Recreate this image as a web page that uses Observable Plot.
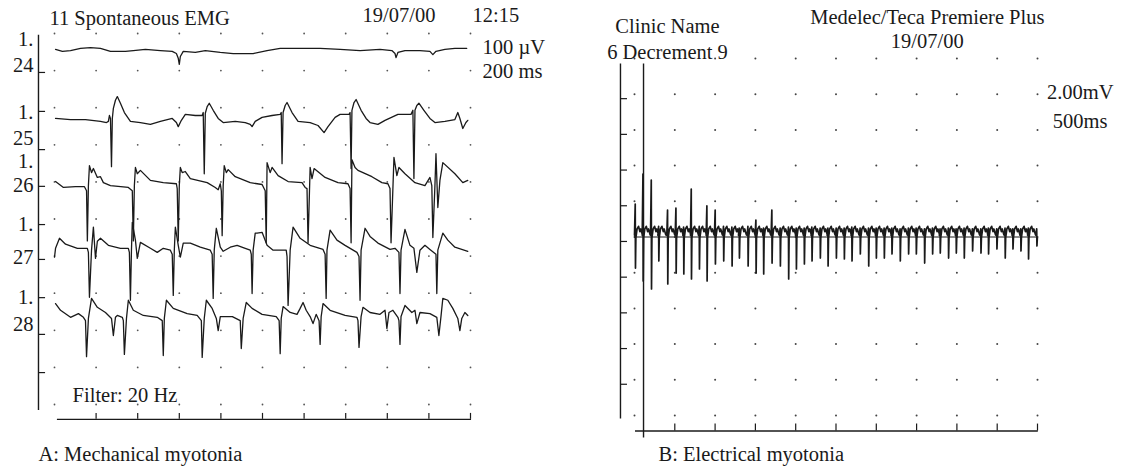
<!DOCTYPE html>
<html><head><meta charset="utf-8">
<script src="https://cdn.jsdelivr.net/npm/d3@7"></script>
<script src="https://cdn.jsdelivr.net/npm/@observablehq/plot@0.6"></script>
<style>
html,body{margin:0;padding:0;background:#fff;}
#wrap{position:relative;width:1135px;height:468px;overflow:hidden;background:#fff;}
#left{position:absolute;left:0;top:0;}
#right{position:absolute;left:560px;top:0;}
svg{overflow:visible;}
</style></head><body><div id="wrap"><div id="left"></div><div id="right"></div></div>
<script>
// ---------- Panel A: spontaneous EMG, 5 channels (time ms, amplitude µV relative to channel baseline)
const channelNames = ["24", "25", "26", "27", "28"];
const channelOffsets = [-43, -229, -410, -579, -760]; // µV position of each channel baseline
const trace24 = [[5,0],[38,-5],[77,-3],[125,3],[173,5],[221,3],[269,-5],[341,-5],[379,-3],[437,0],[509,-3],[566,-5],[586,-11],[595,-24],[600,-40],[605,-19],[619,-5],[677,-8],[725,-3],[797,-8],[859,-11],[955,-11],[1022,-3],[1085,3],[1181,3],[1277,3],[1373,0],[1469,-3],[1565,0],[1622,-3],[1637,-11],[1642,-22],[1651,-8],[1685,-3],[1757,-3],[1805,-5],[1819,-14],[1834,-5],[1877,0],[1925,3],[1982,3]];
const trace25 = [[5,0],[77,-3],[149,-3],[221,-8],[250,-11],[259,-8],[264,8],[269,0],[274,-130],[278,0],[283,27],[293,49],[302,59],[317,41],[336,16],[365,-8],[413,-11],[461,-16],[509,-8],[566,0],[586,-11],[595,-22],[610,-5],[629,11],[677,8],[710,8],[715,16],[720,-149],[725,14],[734,32],[744,41],[763,22],[787,0],[811,-11],[869,-8],[917,-11],[941,-16],[950,-22],[965,-8],[998,3],[1046,8],[1085,11],[1090,16],[1094,-122],[1099,16],[1109,35],[1118,43],[1142,16],[1171,-8],[1229,-11],[1267,-19],[1296,-38],[1315,-22],[1349,3],[1373,11],[1416,11],[1421,16],[1426,-135],[1430,22],[1440,43],[1450,51],[1474,22],[1498,0],[1517,-11],[1555,-16],[1589,-5],[1651,11],[1714,11],[1723,22],[1728,-162],[1733,22],[1742,35],[1752,41],[1776,22],[1805,0],[1829,-11],[1877,-8],[1925,-3],[1939,16],[1949,0],[1963,-27],[1978,-11],[1987,-5]];
const trace26 = [[5,11],[43,-5],[101,-3],[144,-3],[154,-14],[158,-149],[163,0],[168,54],[178,35],[187,46],[206,22],[221,24],[235,8],[269,0],[355,-5],[374,-14],[379,-149],[384,0],[389,49],[398,32],[413,41],[461,14],[523,8],[586,5],[590,-8],[595,-149],[600,0],[605,49],[614,35],[629,38],[653,19],[734,8],[773,-5],[787,-11],[797,5],[802,-14],[806,-135],[811,0],[816,54],[826,35],[835,43],[869,24],[941,8],[998,3],[1013,-14],[1018,-154],[1022,62],[1037,35],[1046,49],[1075,27],[1123,11],[1190,8],[1205,-5],[1214,-8],[1219,-154],[1229,49],[1238,19],[1248,46],[1301,22],[1363,8],[1411,5],[1421,-8],[1426,-154],[1430,70],[1445,49],[1459,41],[1526,24],[1574,8],[1603,5],[1613,-8],[1618,-154],[1632,76],[1646,27],[1656,49],[1685,32],[1733,8],[1781,0],[1805,22],[1814,0],[1819,-140],[1829,0],[1834,86],[1843,-59],[1853,14],[1867,62],[1925,32],[1963,8],[1987,14]];
const trace27 = [[0,-24],[5,0],[24,27],[53,11],[110,0],[158,0],[163,-11],[168,-132],[178,-5],[187,57],[197,-27],[206,19],[221,27],[259,8],[317,0],[355,0],[360,-11],[365,-140],[370,-5],[374,70],[389,22],[398,-27],[413,16],[461,0],[494,-11],[523,0],[557,-5],[566,-16],[571,-127],[576,-5],[581,57],[595,8],[605,-24],[619,14],[653,14],[701,3],[749,-5],[758,-16],[763,-135],[768,-5],[778,54],[797,3],[811,-8],[845,3],[878,8],[917,0],[941,-5],[946,-16],[950,-122],[955,-5],[965,41],[974,41],[998,43],[1022,8],[1051,-5],[1114,-5],[1118,-22],[1123,-154],[1133,-5],[1147,57],[1181,27],[1229,8],[1291,-3],[1301,-16],[1306,-135],[1310,-5],[1325,49],[1358,22],[1397,8],[1454,-11],[1464,-22],[1469,-140],[1474,-5],[1493,54],[1517,32],[1555,14],[1613,-3],[1637,0],[1656,-11],[1661,-122],[1666,-5],[1685,51],[1709,8],[1728,0],[1742,-65],[1757,-5],[1781,8],[1805,-3],[1834,-16],[1838,-122],[1843,-5],[1867,41],[1891,22],[1925,3],[1987,-8]];
const trace28 = [[5,32],[29,14],[77,-5],[115,5],[139,-5],[149,-14],[154,-111],[163,-8],[178,46],[206,22],[245,8],[274,-8],[283,-54],[293,-5],[302,0],[326,-5],[331,-14],[336,-105],[346,-8],[355,41],[379,14],[427,0],[494,-5],[518,-14],[523,-108],[528,-8],[538,41],[571,19],[638,5],[686,0],[706,-14],[710,-113],[720,-8],[730,41],[758,19],[778,-8],[787,-41],[797,-3],[855,-3],[893,-14],[898,-89],[907,-8],[922,35],[950,19],[998,3],[1066,-3],[1080,-14],[1085,-103],[1090,-8],[1099,24],[1133,8],[1166,3],[1181,19],[1195,35],[1210,14],[1229,-3],[1243,-22],[1258,3],[1272,-14],[1277,-78],[1282,-3],[1291,32],[1325,14],[1397,0],[1454,-5],[1459,-14],[1464,-86],[1474,-3],[1483,22],[1517,8],[1565,3],[1589,14],[1598,-35],[1608,8],[1627,14],[1651,-5],[1656,-14],[1661,-78],[1666,-3],[1685,27],[1718,8],[1733,14],[1742,-22],[1757,8],[1805,5],[1838,-5],[1848,-54],[1858,-3],[1867,46],[1891,41],[1915,19],[1939,-8],[1949,-41],[1958,-8],[1973,8],[1987,0]];
const tracesA = [trace24, trace25, trace26, trace27, trace28];

const gridTimesA = [0, 200, 400, 600, 800, 1000, 1200, 1400, 1600, 1800, 2000];
const gridLevelsA = [0, -100, -200, -300, -400, -500, -600, -700, -800, -900, -1000];
const axisTicksA = [-105, -210, -313, -412, -515, -609, -712, -811, -914];
const timeTicksA = [200, 400, 600, 800, 1000, 1200, 1400, 1600, 1800, 2000];
const chanLabelTexts = ["1.", "24", "1.", "25", "1.", "26", "1.", "27", "1.", "28"];
const chanLabelLevels = [-16, -86, -213, -283, -345, -410, -515, -604, -712, -784];

// ---------- Panel B: repetitive discharge (time ms, amplitude mV)
const spikeT = [12,108,211,302,413,517,612,707,806,901,1004,1107,1211,1302,1410,1509,1603,1707,1810,1913,2009,2108,2203,2306,2402,2505,2604,2699,2802,2906,3001,3100,3195,3298,3401,3497,3600,3699,3794,3897,3993,4092,4195,4299,4393,4497,4600,4696,4795,4889,4993];
const spikeDown = [-1.74,-2.46,-2.91,-1.34,-2.63,-2.02,-2.07,-2.35,-1.79,-2.46,-1.51,-1.34,-1.62,-1.18,-1.62,-2.02,-2.07,-1.46,-1.62,-2.35,-1.79,-1.51,-1.34,-1.18,-1.62,-1.18,-1.23,-1.34,-0.95,-1.62,-1.18,-1.18,-0.95,-1.34,-0.95,-0.95,-1.46,-0.95,-0.90,-1.18,-0.90,-1.18,-0.78,-0.90,-0.95,-0.67,-1.18,-0.67,-0.78,-1.23,-0.50];
const spikeUp = [1.85,3.53,3.19,0.6,1.51,1.62,0.55,2.69,0.6,1.74,1.51,0.6,0.55,0.5,0.6,0.95,0.5,1.51,0.5,0.55,0.5,0.5,0.55,0.5,0.5,0.5,0.5,0.55,0.5,0.5,0.5,0.5,0.5,0.45,0.5,0.5,0.45,0.5,0.45,0.5,0.45,0.5,0.45,0.45,0.5,0.45,0.5,0.45,0.45,0.5,0.45];
const dischargeShape = [[-12, 0.1], [-3, "up"], [0, "down"], [5, -0.05], [20, 0.45], [38, 0.6], [55, 0.3], [66, 0.45], [86, 0.12]];
const gridTimesB = [0, 500, 1000, 1500, 2000, 2500, 3000, 3500, 4000, 4500, 5000];
const gridLevelsB = [10, 8, 6, 4, 2, 0, -2, -4, -6, -8, -10];
const axisTicksB = [7.75, 5.75, 3.75, 1.75, -0.25, -2.25, -4.25, -6.25, -8.25];
const timeTicksB = [500, 1000, 1500, 2000, 2500, 3000, 3500, 4000, 4500, 5000];
const stimulusT = 112;

// ---------- build tables
const rowsA = [];
tracesA.forEach((tr, k) => tr.forEach(([t, v]) => rowsA.push({ch: channelNames[k], t, y: channelOffsets[k] + v})));
const gridA = gridTimesA.flatMap(t => gridLevelsA.map(v => ({t, v})));
const chanLabels = chanLabelTexts.map((text, i) => ({text, v: chanLabelLevels[i]}));

const rowsB = [];
spikeT.forEach((t, i) => dischargeShape.forEach(([dt, val]) => {
  const v = val === "up" ? spikeUp[i] : val === "down" ? spikeDown[i] : val;
  if (t + dt <= 5000) rowsB.push({t: t + dt, v});
}));
const gridB = gridTimesB.flatMap(t => gridLevelsB.map(v => ({t, v})));

const font = {fontFamily: "'Liberation Serif', 'Times New Roman', serif", fontSize: "20.5px", color: "#1a1a1a", background: "transparent"};
const ink = "#1a1a1a";

const plotA = Plot.plot({
  width: 560, height: 468, margin: 0,
  x: {domain: [0, 2000], range: [54, 470], axis: null},
  y: {domain: [0, -1000], range: [33, 404], axis: null},
  style: font,
  marks: [
    Plot.dot(gridA, {x: "t", y: "v", r: 0.9, fill: "#555", stroke: null}),
    Plot.ruleX([-77], {y1: -5, y2: -1016, stroke: ink, strokeWidth: 1.4}),
    Plot.ruleY(axisTicksA, {x1: -77, x2: -43, stroke: ink, strokeWidth: 1.2}),
    Plot.ruleY([-1040], {x1: 14, x2: 2005, stroke: ink, strokeWidth: 1.4}),
    Plot.ruleX(timeTicksA, {y1: -1040, y2: -1024, stroke: ink, strokeWidth: 1.2}),
    Plot.line(rowsA, {x: "t", y: "y", z: "ch", stroke: ink, strokeWidth: 1.3, curve: "linear"}),
    Plot.text(chanLabels, {x: -101, y: "v", text: "text", textAnchor: "end", lineAnchor: "middle", fill: ink}),
    Plot.text(["11 Spontaneous EMG"], {x: -24, y: 22, text: d => d, textAnchor: "start", lineAnchor: "bottom", fill: ink}),
    Plot.text(["19/07/00"], {x: 1481, y: 30, text: d => d, textAnchor: "start", lineAnchor: "bottom", fill: ink}),
    Plot.text(["12:15"], {x: 2010, y: 30, text: d => d, textAnchor: "start", lineAnchor: "bottom", fill: ink}),
    Plot.text(["100 µV"], {x: 2058, y: -54, text: d => d, textAnchor: "start", lineAnchor: "bottom", fill: ink}),
    Plot.text(["200 ms"], {x: 2058, y: -119, text: d => d, textAnchor: "start", lineAnchor: "bottom", fill: ink}),
    Plot.text(["Filter: 20 Hz"], {x: 87, y: -994, text: d => d, textAnchor: "start", lineAnchor: "bottom", fill: ink}),
    Plot.text(["A: Mechanical myotonia"], {x: -77, y: -1153, text: d => d, textAnchor: "start", lineAnchor: "bottom", fill: ink})
  ]
});
document.getElementById("left").appendChild(plotA);

const plotB = Plot.plot({
  width: 575, height: 468, margin: 0,
  x: {domain: [0, 5000], range: [74, 477], axis: null},
  y: {domain: [10, -10], range: [58, 415], axis: null},
  style: font,
  marks: [
    Plot.dot(gridB, {x: "t", y: "v", r: 1, fill: "#444", stroke: null}),
    Plot.ruleX([-174], {y1: 9.69, y2: -10.19, stroke: ink, strokeWidth: 1.4}),
    Plot.ruleY(axisTicksB, {x1: -174, x2: -87, stroke: ink, strokeWidth: 1.2}),
    Plot.ruleX([stimulusT], {y1: 9.69, y2: -11.26, stroke: ink, strokeWidth: 1.4}),
    Plot.ruleY([-10.87], {x1: 12, x2: 5010, stroke: ink, strokeWidth: 1.4}),
    Plot.ruleX(timeTicksB, {y1: -10.87, y2: -10.48, stroke: ink, strokeWidth: 1.2}),
    Plot.ruleY([0], {x1: 0, x2: 5000, stroke: ink, strokeWidth: 1}),
    Plot.line(rowsB, {x: "t", y: "v", stroke: ink, strokeWidth: 1.7, curve: "linear"}),
    Plot.text(["Clinic Name"], {x: 409, y: 11.42, text: d => d, textAnchor: "middle", lineAnchor: "bottom", fill: ink}),
    Plot.text(["6 Decrement 9"], {x: 409, y: 9.97, text: d => d, textAnchor: "middle", lineAnchor: "bottom", fill: ink}),
    Plot.text(["Medelec/Teca Premiere Plus"], {x: 3633, y: 11.93, text: d => d, textAnchor: "middle", lineAnchor: "bottom", fill: ink}),
    Plot.text(["19/07/00"], {x: 3633, y: 10.58, text: d => d, textAnchor: "middle", lineAnchor: "bottom", fill: ink}),
    Plot.text(["2.00mV"], {x: 5530, y: 7.73, text: d => d, textAnchor: "middle", lineAnchor: "bottom", fill: ink}),
    Plot.text(["500ms"], {x: 5530, y: 6.10, text: d => d, textAnchor: "middle", lineAnchor: "bottom", fill: ink}),
    Plot.text(["B: Electrical myotonia"], {x: 298, y: -12.54, text: d => d, textAnchor: "start", lineAnchor: "bottom", fill: ink})
  ]
});
document.getElementById("right").appendChild(plotB);
</script></body></html>
